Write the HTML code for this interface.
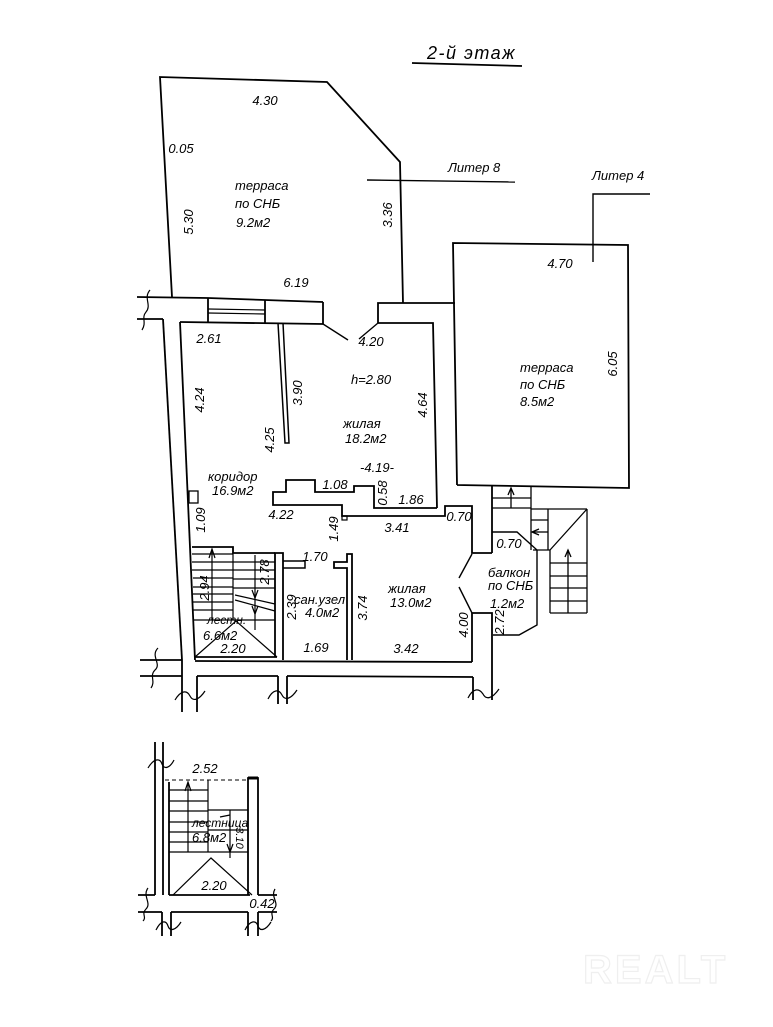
<!DOCTYPE html>
<html><head><meta charset="utf-8">
<style>
html,body{margin:0;padding:0;background:#fff;}
svg{display:block;}
text{font-family:"Liberation Sans","DejaVu Sans",sans-serif;font-style:italic;font-size:13px;fill:#000;}
.c{text-anchor:middle;}
</style></head>
<body>
<svg width="773" height="1027" viewBox="0 0 773 1027" xmlns="http://www.w3.org/2000/svg">
<rect width="773" height="1027" fill="#fff"/>
<g fill="none" stroke="#000" stroke-width="1.8" stroke-linejoin="miter">
<!-- title underline -->
<line x1="412" y1="63" x2="522" y2="66"/>
<!-- top terrace -->
<polyline points="172,297 160,77 327,82 400,162 403,303"/>
<line x1="367" y1="180" x2="515" y2="182" stroke-width="1.4"/>
<!-- литер 4 -->
<polyline points="650,194 593,194 593,262" stroke-width="1.4"/>
<!-- right terrace -->
<polyline points="457,485 453,243 628,245 629,488 457,485"/>
<!-- top wall -->
<polyline points="137,297 208,298 323,302"/>
<line x1="137" y1="319" x2="163" y2="319"/>
<line x1="208" y1="298" x2="208" y2="322"/>
<line x1="265" y1="300" x2="265" y2="323"/>
<line x1="323" y1="302" x2="323" y2="324"/>
<line x1="208" y1="309" x2="265" y2="310" stroke-width="1.2"/>
<line x1="208" y1="313" x2="265" y2="314" stroke-width="1.2"/>
<line x1="180" y1="322" x2="323" y2="324"/>
<!-- door swings top -->
<line x1="323" y1="324" x2="348" y2="340" stroke-width="1.4"/>
<line x1="378" y1="323" x2="359" y2="339" stroke-width="1.4"/>
<!-- right block -->
<polyline points="378,323 378,303 455,303"/>
<polyline points="378,323 433,323 437,508"/>
<!-- left wall -->
<line x1="163" y1="319" x2="182" y2="660"/>
<line x1="180" y1="322" x2="195" y2="660"/>
<rect x="189" y="491" width="9" height="12" stroke-width="1.3"/>
<!-- partition in living room -->
<polyline points="278,323 285,443 289,443 283,323" stroke-width="1.5"/>
<!-- stepped wall -->
<polyline points="437,508 374,508 374,486 354,486 354,492 315,492 315,480 286,480 286,492 273,492 273,505 342,505 342,516 445,516 445,506 472,506 472,553 492,553"/>
<rect x="342" y="516" width="5" height="4" stroke-width="1.2"/>
<line x1="492" y1="486" x2="492" y2="553"/>
<!-- door to balcony -->
<line x1="472" y1="554" x2="459" y2="578" stroke-width="1.4"/>
<line x1="459" y1="587" x2="472" y2="613" stroke-width="1.4"/>
<polyline points="472,662 472,613 492,613 492,700"/>
<!-- bottom walls -->
<line x1="140" y1="660" x2="182" y2="660"/>
<line x1="195" y1="661" x2="472" y2="662"/>
<line x1="140" y1="676" x2="182" y2="676"/>
<line x1="197" y1="676" x2="278" y2="676"/>
<line x1="287" y1="676" x2="473" y2="677"/>
<line x1="182" y1="660" x2="182" y2="712"/>
<line x1="197" y1="676" x2="197" y2="712"/>
<line x1="278" y1="676" x2="278" y2="704"/>
<line x1="287" y1="676" x2="287" y2="704"/>
<line x1="473" y1="677" x2="473" y2="700"/>
<!-- sanuzel walls -->
<polyline points="275,657 275,553 283,553 283,660"/>
<polyline points="283,561 305,561 305,568 283,568" stroke-width="1.5"/>
<polyline points="347,660 347,568 334,568 334,562 347,562 347,554 352,554 352,660"/>
<!-- stairs лестн -->
<polyline points="192,547 233,547 233,553 275,553"/>
<line x1="195" y1="657" x2="277" y2="657"/>
<g stroke-width="1.2">
<line x1="192" y1="554" x2="233" y2="554"/>
<line x1="192" y1="562" x2="233" y2="562"/>
<line x1="192" y1="570" x2="233" y2="570"/>
<line x1="193" y1="578" x2="233" y2="578"/>
<line x1="193" y1="587" x2="233" y2="587"/>
<line x1="193" y1="594" x2="233" y2="594"/>
<line x1="193" y1="602" x2="233" y2="602"/>
<line x1="193" y1="610" x2="233" y2="610"/>
<line x1="233" y1="562" x2="275" y2="562"/>
<line x1="233" y1="570" x2="275" y2="570"/>
<line x1="233" y1="579" x2="275" y2="579"/>
<line x1="233" y1="588" x2="275" y2="588"/>
<line x1="233" y1="547" x2="233" y2="620"/>
<line x1="194" y1="620" x2="275" y2="620"/>
<line x1="212" y1="620" x2="212" y2="550"/>
<polyline points="209,558 212,549 215,558"/>
<line x1="255" y1="555" x2="255" y2="630"/>
<polyline points="252,590 255,598 258,590"/>
<polyline points="252,606 255,614 258,606"/>
<line x1="235" y1="595" x2="275" y2="604"/>
<line x1="235" y1="600" x2="275" y2="611"/>
<polyline points="195,657 236,621 277,657"/>
</g>
<!-- right small stairs -->
<g stroke-width="1.3">
<line x1="531" y1="487" x2="531" y2="550"/>
<line x1="492" y1="498" x2="531" y2="498"/>
<line x1="492" y1="508" x2="531" y2="508"/>
<line x1="511" y1="508" x2="511" y2="489"/>
<polyline points="508,495 511,488 514,495"/>
<line x1="531" y1="509" x2="587" y2="509"/>
<line x1="548" y1="509" x2="548" y2="550"/>
<line x1="531" y1="520" x2="548" y2="520"/>
<line x1="533" y1="532" x2="548" y2="532"/>
<polyline points="539,529 532,532 539,535"/>
<line x1="533" y1="550" x2="550" y2="550"/>
<line x1="550" y1="550" x2="587" y2="509"/>
<line x1="550" y1="550" x2="550" y2="613"/>
<line x1="587" y1="509" x2="587" y2="613"/>
<line x1="568" y1="550" x2="568" y2="613"/>
<polyline points="565,557 568,550 571,557"/>
<line x1="550" y1="563" x2="587" y2="563"/>
<line x1="550" y1="576" x2="587" y2="576"/>
<line x1="550" y1="588" x2="587" y2="588"/>
<line x1="550" y1="601" x2="587" y2="601"/>
<line x1="550" y1="613" x2="587" y2="613"/>
</g>
<!-- balcony -->
<polyline points="492,532 517,532 537,550 537,625 519,635 493,635" stroke-width="1.4"/>
<!-- lower staircase -->
<line x1="155" y1="742" x2="155" y2="895"/>
<line x1="163" y1="742" x2="163" y2="895"/>
<line x1="169" y1="782" x2="169" y2="895"/>
<line x1="138" y1="895" x2="155" y2="895"/>
<line x1="169" y1="895" x2="250" y2="895"/>
<line x1="258" y1="895" x2="277" y2="895"/>
<line x1="138" y1="912" x2="162" y2="912"/>
<line x1="171" y1="912" x2="248" y2="912"/>
<line x1="258" y1="912" x2="277" y2="912"/>
<line x1="162" y1="912" x2="162" y2="936"/>
<line x1="171" y1="912" x2="171" y2="936"/>
<line x1="248" y1="912" x2="248" y2="936"/>
<line x1="258" y1="912" x2="258" y2="936"/>
<polyline points="248,895 248,778 258,778 258,895"/>
<line x1="248" y1="778" x2="258" y2="778" stroke-width="3"/>
<line x1="165" y1="780" x2="248" y2="780" stroke-width="1" stroke-dasharray="4,3"/>
<g stroke-width="1.2">
<line x1="169" y1="790" x2="208" y2="790"/>
<line x1="169" y1="801" x2="208" y2="801"/>
<line x1="169" y1="811" x2="208" y2="811"/>
<line x1="169" y1="822" x2="208" y2="822"/>
<line x1="169" y1="832" x2="208" y2="832"/>
<line x1="169" y1="842" x2="208" y2="842"/>
<line x1="169" y1="852" x2="248" y2="852"/>
<line x1="208" y1="780" x2="208" y2="852"/>
<line x1="208" y1="810" x2="248" y2="810"/>
<line x1="208" y1="830" x2="248" y2="830"/>
<line x1="188" y1="852" x2="188" y2="783"/>
<polyline points="185,791 188,782 191,791"/>
<line x1="230" y1="810" x2="230" y2="858"/>
<polyline points="227,844 230,852 233,844"/>
<line x1="220" y1="817" x2="230" y2="815"/>
<polyline points="173,895 211,858 252,895"/>
</g>
<!-- break waves -->
<g stroke-width="1.2">
<path d="M150,290 C143,298 152,305 146,312 C141,318 147,322 142,330"/>
<path d="M158,648 C150,656 162,664 155,670 C149,676 156,681 151,688"/>
<path d="M175,700 C181,690 187,690 190,696 C193,702 199,700 205,691"/>
<path d="M268,699 C273,689 279,689 282,695 C285,701 291,699 297,690"/>
<path d="M468,698 C473,688 479,688 483,694 C486,700 492,699 499,689"/>
<path d="M148,768 C154,758 160,758 162,764 C164,770 170,768 174,760"/>
<path d="M148,888 C142,896 152,903 146,909 C141,914 147,917 143,921"/>
<path d="M156,930 C161,920 166,920 168,926 C170,932 176,930 181,922"/>
<path d="M245,930 C250,920 256,920 258,926 C260,932 266,930 271,922"/>
<path d="M275,889 C270,897 280,903 274,909 C269,914 275,917 271,921"/>
</g>
</g>

<!-- texts -->
<text x="427" y="59" style="font-size:18px;letter-spacing:1.5px">2-й этаж</text>
<text x="448" y="172">Литер 8</text>
<text x="592" y="180">Литер 4</text>

<text class="c" x="265" y="105">4.30</text>
<text class="c" x="181" y="153">0.05</text>
<text x="235" y="190">терраса</text>
<text x="235" y="208">по СНБ</text>
<text x="236" y="227">9.2м2</text>
<text class="c" transform="translate(193,222) rotate(-90)">5.30</text>
<text class="c" transform="translate(392,215) rotate(-90)">3.36</text>
<text class="c" x="296" y="287">6.19</text>

<text class="c" x="560" y="268">4.70</text>
<text class="c" transform="translate(617,364) rotate(-90)">6.05</text>
<text x="520" y="372">терраса</text>
<text x="520" y="389">по СНБ</text>
<text x="520" y="406">8.5м2</text>

<text class="c" x="209" y="343">2.61</text>
<text class="c" x="371" y="346">4.20</text>
<text class="c" x="371" y="384">h=2.80</text>
<text class="c" transform="translate(302,393) rotate(-90)">3.90</text>
<text class="c" transform="translate(427,405) rotate(-90)">4.64</text>
<text class="c" transform="translate(204,400) rotate(-90)">4.24</text>
<text class="c" transform="translate(274,440) rotate(-90)">4.25</text>
<text x="343" y="428">жилая</text>
<text x="345" y="443">18.2м2</text>
<text class="c" x="377" y="472">-4.19-</text>
<text x="208" y="481">коридор</text>
<text x="212" y="495">16.9м2</text>
<text class="c" x="335" y="489">1.08</text>
<text class="c" transform="translate(387,493) rotate(-90)">0.58</text>
<text class="c" x="411" y="504">1.86</text>
<text class="c" x="281" y="519">4.22</text>
<text class="c" transform="translate(338,529) rotate(-90)">1.49</text>
<text class="c" x="397" y="532">3.41</text>
<text class="c" x="459" y="521">0.70</text>
<text class="c" transform="translate(205,520) rotate(-90)">1.09</text>
<text class="c" x="315" y="561">1.70</text>

<text class="c" transform="translate(209,588) rotate(-90)">2.94</text>
<text class="c" transform="translate(269,572) rotate(-90)">2.78</text>
<text x="207" y="624" style="font-size:12px">лестн.</text>
<text x="203" y="640">6.6м2</text>
<text class="c" x="233" y="653">2.20</text>

<text class="c" transform="translate(296,607) rotate(-90)">2.39</text>
<text x="294" y="604">сан.узел</text>
<text x="305" y="617">4.0м2</text>
<text class="c" x="316" y="652">1.69</text>
<text class="c" transform="translate(367,608) rotate(-90)">3.74</text>
<text x="388" y="593">жилая</text>
<text x="390" y="607">13.0м2</text>
<text class="c" x="406" y="653">3.42</text>
<text class="c" transform="translate(468,625) rotate(-90)">4.00</text>

<text class="c" x="509" y="548">0.70</text>
<text x="488" y="577">балкон</text>
<text x="488" y="590">по СНБ</text>
<text x="490" y="608">1.2м2</text>
<text class="c" transform="translate(504,622) rotate(-90)">2.72</text>

<text class="c" x="205" y="773">2.52</text>
<text x="192" y="827" style="font-size:12px">лестница</text>
<text x="192" y="842">6.8м2</text>
<text class="c" transform="translate(236,838) rotate(90)" style="font-size:11px">3.10</text>
<text class="c" x="214" y="890">2.20</text>
<text class="c" x="262" y="908">0.42</text>

<text x="583" y="983" style="font-size:40px;font-style:normal;font-weight:bold;letter-spacing:3px;fill:#fff;stroke:#efefef;stroke-width:1.2">REALT</text>
</svg>
</body></html>
